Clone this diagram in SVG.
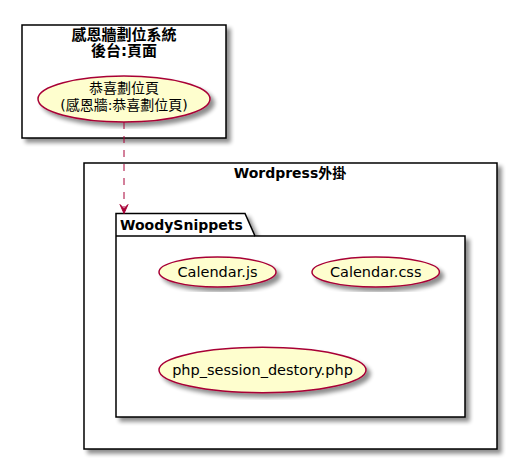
<svg xmlns="http://www.w3.org/2000/svg" width="506" height="459" viewBox="0 0 506 459">
<defs>
<filter id="sh" x="-5%" y="-5%" width="115%" height="120%">
<feGaussianBlur in="SourceAlpha" stdDeviation="2" result="b"/>
<feOffset in="b" dx="4" dy="4" result="o"/>
<feComponentTransfer in="o" result="o2"><feFuncA type="linear" slope="0.45"/></feComponentTransfer>
<feMerge><feMergeNode in="o2"/><feMergeNode in="SourceGraphic"/></feMerge>
</filter>
</defs>
<style>
.box{fill:#FFFFFF;stroke:#000000;stroke-width:1.5;filter:url(#sh)}
.uc{fill:#FEFECE;stroke:#A80036;stroke-width:1.5;filter:url(#sh)}
.t{font-family:"DejaVu Sans","Noto Sans CJK TC",sans-serif;fill:#000000;text-anchor:middle}
.b{font-weight:bold;font-size:14px}
.bt{font-weight:bold;font-size:15px}
.n{font-size:14px}
.nl{font-size:14.5px}
.edge{fill:none;stroke:#A80036;stroke-width:1;stroke-dasharray:7,7}
</style>
<g id="system">
<rect class="box" x="22" y="25" width="204" height="113"/>
<text class="t bt" x="124" y="39.5">感恩牆劃位系統</text>
<text class="t bt" x="124" y="56">後台:頁面</text>
</g>
<g id="wordpress">
<rect class="box" x="84" y="163" width="413" height="286"/>
<text class="t b" x="290" y="178">Wordpress外掛</text>
</g>
<g id="woodysnippets">
<path class="box" d="M116,213.5 L245,213.5 L255,236 L465,236 L465,417 L116,417 Z"/>
<line x1="116" y1="236" x2="255" y2="236" stroke="#000" stroke-width="1.5"/>
<text class="t b" x="120" y="229.5" style="text-anchor:start">WoodySnippets</text>
</g>
<g id="uc_congrats">
<ellipse class="uc" cx="124" cy="99" rx="86" ry="23"/>
<text class="t n" x="124" y="93">恭喜劃位頁</text>
<text class="t n" x="124" y="110">(感恩牆:恭喜劃位頁)</text>
</g>
<g id="uc_calendar_js">
<ellipse class="uc" cx="217.5" cy="272" rx="58.5" ry="15"/>
<text class="t nl" x="217.5" y="277">Calendar.js</text>
</g>
<g id="uc_calendar_css">
<ellipse class="uc" cx="375.7" cy="272" rx="63.7" ry="15"/>
<text class="t nl" x="375.7" y="277">Calendar.css</text>
</g>
<g id="uc_php">
<ellipse class="uc" cx="262.5" cy="370" rx="103.5" ry="22.7"/>
<text class="t nl" x="262.5" y="375">php_session_destory.php</text>
</g>
<g id="connectors">
<path class="edge" d="M124,122 L124,207"/>
<polygon points="124,213.5 120,204.5 124,208.5 128,204.5" fill="#A80036" stroke="#A80036" stroke-width="1"/>
</g>
</svg>
